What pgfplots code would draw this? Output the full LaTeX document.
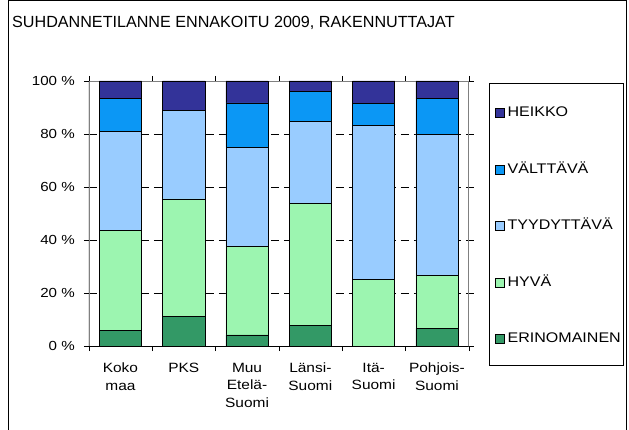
\documentclass[border=0pt]{standalone}
\usepackage{fontspec}
\setmainfont{Liberation Sans}[FakeStretch=1.15]
\newfontfamily\titlefont{Liberation Sans}
\usepackage{pgfplots}
\pgfplotsset{compat=1.18}

\definecolor{cErin}{HTML}{339966}
\definecolor{cHyva}{HTML}{9CF5B0}
\definecolor{cTyyd}{HTML}{99CCFF}
\definecolor{cValt}{HTML}{0B97F5}
\definecolor{cHeik}{HTML}{333399}

\pgfplotsset{
  legimg/.style={legend image code/.code={
    \draw[##1,draw=black,line width=0.6bp] (0bp,-4.5bp) rectangle (9bp,4.5bp);
    \path (12bp,0bp);}},
}

\begin{document}
\begin{tikzpicture}[x=1bp,y=1bp]
\useasboundingbox (0,0) rectangle (629,429);
\draw[line width=1bp] (8,-5) -- (8,428) -- (626,428) -- (626,-5);
\node[anchor=base west, inner sep=0pt, font=\titlefont\fontsize{16.2}{19}\selectfont]
  at (12,401.5) {SUHDANNETILANNE ENNAKOITU 2009, RAKENNUTTAJAT};
% legend frame
\draw[line width=0.8bp] (489,346) rectangle (623,64);

\begin{axis}[
  at={(88.8bp,83bp)}, anchor=south west,
  scale only axis,
  width=379.8bp, height=265bp,
  ybar stacked,
  bar width=0.668,
  xmin=-0.5, xmax=5.5,
  ymin=0, ymax=100,
  enlargelimits=false,
  axis line style={draw=gray},
  tick style={black},
  tick align=outside,
  major tick length=5bp,
  minor tick length=5bp,
  ytick={0,20,...,100},
  yticklabels={0 \%,20 \%,40 \%,60 \%,80 \%,100 \%},
  yticklabel style={inner sep=0pt, xshift=-8.8bp, font=\fontsize{13.2}{15}\selectfont},
  xtick={0,...,5},
  xticklabels={Koko\\maa, PKS, Muu\\Etelä-\\Suomi, Länsi-\\Suomi, Itä-\\Suomi, Pohjois-\\Suomi},
  xticklabel style={align=center, inner sep=0pt, yshift=-12bp, font=\fontsize{13.5}{17.5}\selectfont},
  minor xtick={-0.5,0.5,...,5.5},
  major x tick style={draw=none},
  minor x tick style={draw=black},
  ymajorgrids,
  grid style={black, dash pattern=on 8bp off 5bp, line width=0.6bp},
  every axis plot/.append style={draw=black, line width=0.6bp},
  reverse legend,
  legend cell align=left,
  legend style={draw=none, fill=none, inner sep=0pt, outer sep=0pt,
    at={(1,1)}, anchor=north west, xshift=26.4bp, yshift=-25.5bp,
    row sep=43.5bp,
    font=\fontsize{14}{16}\selectfont,
    nodes={inner sep=0pt, text height=10bp, text depth=3bp}},
]
\addplot+[fill=cErin, draw=black, legimg] coordinates {(0,6) (1,11.1) (2,4.2) (3,7.7) (4,0) (5,6.7)};
\addplot+[fill=cHyva, draw=black, legimg] coordinates {(0,37.5) (1,44.4) (2,33.3) (3,46.2) (4,25) (5,20)};
\addplot+[fill=cTyyd, draw=black, legimg] coordinates {(0,37.5) (1,33.3) (2,37.5) (3,30.8) (4,58.3) (5,53.3)};
\addplot+[fill=cValt, draw=black, legimg] coordinates {(0,12.5) (1,0) (2,16.7) (3,11.5) (4,8.3) (5,13.3)};
\addplot+[fill=cHeik, draw=black, legimg] coordinates {(0,6.5) (1,11.2) (2,8.3) (3,3.8) (4,8.4) (5,6.7)};
\legend{ERINOMAINEN, HYVÄ, TYYDYTTÄVÄ, VÄLTTÄVÄ, HEIKKO}
\draw[black, line width=0.8bp] (rel axis cs:0,1) -- (rel axis cs:0,0) -- (rel axis cs:1,0);
\end{axis}
\end{tikzpicture}
\end{document}
